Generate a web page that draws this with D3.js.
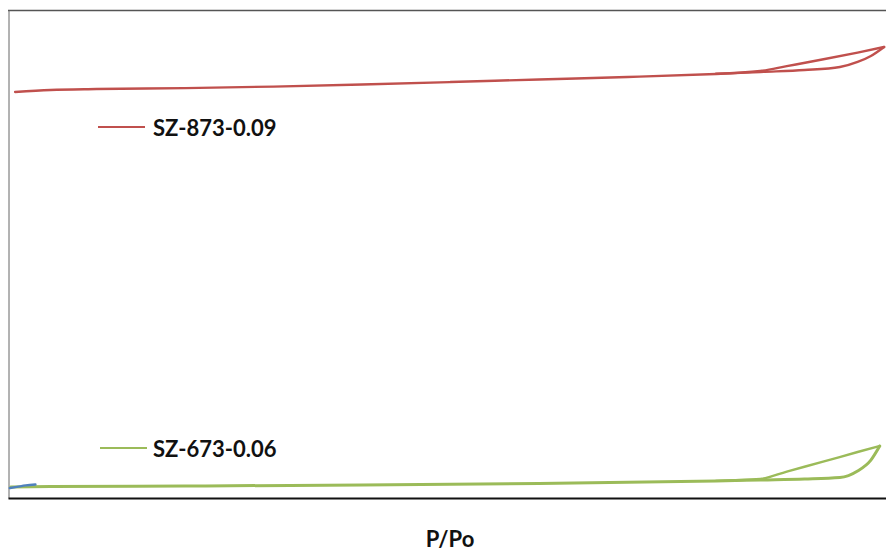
<!DOCTYPE html>
<html>
<head>
<meta charset="utf-8">
<script src="https://cdn.jsdelivr.net/npm/d3@7"></script>
<style>
  html, body { margin: 0; padding: 0; background: #ffffff; }
  svg { display: block; }
</style>
</head>
<body>
<svg id="chart" width="886" height="553"></svg>
<script>
// Nitrogen sorption isotherms: relative pressure vs. quantity adsorbed (cm³/g STP)

// SZ-873-0.09 — adsorption branch
const redAdsP = [0.008, 0.048, 0.1, 0.2, 0.3, 0.4, 0.5, 0.6, 0.7, 0.8, 0.85, 0.9, 0.94, 0.96, 0.975, 0.99];
const redAdsV = [216.3, 217.4, 217.9, 218.4, 219.2, 220.3, 221.6, 223.0, 224.3, 225.9, 227.0, 228.0, 229.6, 232.3, 235.5, 240.3];
// SZ-873-0.09 — desorption branch
const redDesP = [0.99, 0.96, 0.92, 0.88, 0.85, 0.8];
const redDesV = [240.3, 237.3, 233.6, 230.1, 227.5, 226.1];

// SZ-673-0.06 — adsorption branch
const greenAdsP = [0.003, 0.048, 0.2, 0.4, 0.6, 0.8, 0.85, 0.9, 0.94, 0.96, 0.975, 0.985];
const greenAdsV = [5.9, 6.1, 6.4, 6.9, 7.7, 9.1, 9.6, 10.1, 10.9, 14.4, 20.2, 27.7];
// SZ-673-0.06 — desorption branch
const greenDesP = [0.985, 0.96, 0.92, 0.88, 0.85, 0.8];
const greenDesV = [27.7, 24.5, 19.2, 14.1, 10.1, 9.1];

// Third sample, low-pressure points only
const blueP = [0.002, 0.01, 0.02, 0.031];
const blueV = [5.3, 5.9, 6.7, 7.2];

const legendLabels = ["SZ-873-0.09", "SZ-673-0.06"];
const xLabel = "P/Po";

const colors = { red: "#c0504d", green: "#9bbb59", blue: "#4f81bd" };

const svg = d3.select("#chart");
const plot = { left: 8, top: 10, bottom: 498, right: 893 };

const x = d3.scaleLinear().domain([0, 1]).range([plot.left, plot.right]);
const y = d3.scaleLinear().domain([0, 260]).range([plot.bottom, plot.top]);

// plot frame
svg.append("line")
  .attr("x1", plot.left).attr("x2", plot.right + 10)
  .attr("y1", plot.top + 0.5).attr("y2", plot.top + 0.5)
  .attr("stroke", "#555").attr("stroke-width", 1.5);

svg.append("g")
  .attr("transform", `translate(${plot.left + 0.5},0)`)
  .call(d3.axisLeft(y).tickValues([]).tickSizeOuter(0))
  .call(g => g.select(".domain").attr("stroke", "#666").attr("stroke-width", 1));

svg.append("g")
  .attr("transform", `translate(0,${plot.bottom})`)
  .call(d3.axisBottom(x).tickValues([]).tickSizeOuter(0))
  .call(g => g.select(".domain").attr("stroke", "#111").attr("stroke-width", 2.2));

const line = d3.line()
  .x(d => x(d[0]))
  .y(d => y(d[1]))
  .curve(d3.curveMonotoneX);

const zip = (a, b) => a.map((v, i) => [v, b[i]]);

function drawSeries(p, v, color, width) {
  svg.append("path")
    .datum(zip(p, v))
    .attr("fill", "none")
    .attr("stroke", color)
    .attr("stroke-width", width)
    .attr("stroke-linejoin", "round")
    .attr("stroke-linecap", "round")
    .attr("d", line);
}

drawSeries(redAdsP, redAdsV, colors.red, 2.4);
drawSeries(redDesP, redDesV, colors.red, 2.4);
drawSeries(greenAdsP, greenAdsV, colors.green, 3);
drawSeries(greenDesP, greenDesV, colors.green, 2.4);
drawSeries(blueP, blueV, colors.blue, 2.4);

// legend entries
const legend = [
  { label: legendLabels[0], color: colors.red, x1: 98, x2: 145, y: 127, tx: 153, ty: 136 },
  { label: legendLabels[1], color: colors.green, x1: 100, x2: 147, y: 448, tx: 153, ty: 457 }
];
legend.forEach(l => {
  svg.append("line")
    .attr("x1", l.x1).attr("x2", l.x2).attr("y1", l.y).attr("y2", l.y)
    .attr("stroke", l.color).attr("stroke-width", 2);
  svg.append("text")
    .attr("x", l.tx).attr("y", l.ty)
    .attr("font-family", "Lato, 'Open Sans', sans-serif")
    .attr("font-weight", "bold")
    .attr("font-size", 22)
    .attr("fill", "#111")
    .text(l.label);
});

// x-axis title
svg.append("text")
  .attr("x", 450).attr("y", 547)
  .attr("text-anchor", "middle")
  .attr("font-family", "Lato, 'Open Sans', sans-serif")
  .attr("font-weight", "bold")
  .attr("font-size", 22)
  .attr("fill", "#111")
  .text(xLabel);
</script>
</body>
</html>
